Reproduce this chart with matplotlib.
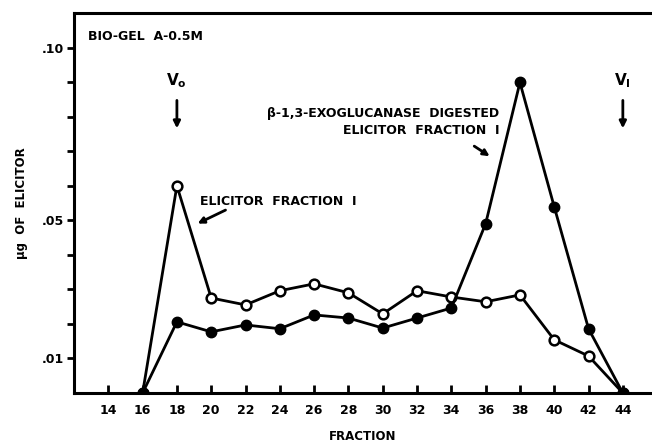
"""Bio-Gel A-0.5M elution profile."""
import numpy as np
import matplotlib
matplotlib.use('Agg')
import matplotlib.pyplot as plt

plt.rcParams['font.family'] = 'DejaVu Sans'
plt.rcParams['font.weight'] = 'bold'
plt.rcParams['mathtext.fontset'] = 'dejavusans'

fractions = [16, 18, 20, 22, 24, 26, 28, 30, 32, 34, 36, 38, 40, 42, 44]
elicitor = [0.0, 0.060, 0.0275, 0.0255, 0.0296, 0.0316, 0.029, 0.0229,
            0.0296, 0.0278, 0.0264, 0.0284, 0.0154, 0.0107, 0.0]
digested = [0.0, 0.0206, 0.0177, 0.0197, 0.0186, 0.0226, 0.0217, 0.0188,
            0.0217, 0.0246, 0.049, 0.0899, 0.0539, 0.0186, 0.0]
x_ticks = list(range(14, 46, 2))
y_ticks = [0.01, 0.02, 0.03, 0.04, 0.05, 0.06, 0.07, 0.08, 0.09, 0.10]
y_labels = {0.01: '.01', 0.05: '.05', 0.10: '.10'}

fig = plt.figure(figsize=(6.52, 4.45), dpi=100)
ax = fig.add_axes([74 / 652, 52 / 445, 578 / 652, 380 / 445])

ax.plot(fractions, elicitor, color='black', lw=2, marker='o', ms=7,
        mfc='white', mec='black', mew=1.8, zorder=3)
ax.plot(fractions, digested, color='black', lw=2, marker='o', ms=7.5,
        mfc='black', mec='black', zorder=4)

ax.set_xlim(12, 45.7)
ax.set_ylim(0, 0.11)
ax.set_xticks(x_ticks)
ax.set_yticks(y_ticks)
ax.set_yticklabels([y_labels.get(round(v, 2), '') for v in y_ticks])

ax.spines['right'].set_visible(False)
for s in ['left', 'top', 'bottom']:
    ax.spines[s].set_linewidth(2.2)
ax.tick_params(axis='x', direction='in', length=6, width=2, labelsize=9, pad=8)
ax.tick_params(axis='y', direction='out', length=5, width=2, labelsize=9, pad=2)

ax.set_xlabel('FRACTION', fontsize=8.5, fontweight='bold', labelpad=9)
ax.set_ylabel('μg  OF  ELICITOR', fontsize=8.5, fontweight='bold', labelpad=10)

ax.text(0.024, 0.937, 'BIO-GEL  A-0.5M', transform=ax.transAxes,
        fontsize=9, fontweight='bold', va='center')

# void and included volume markers
ax.text(18, 0.0905, r'$\mathbf{V_o}$', ha='center', va='center', fontsize=11)
ax.annotate('', xy=(18, 0.0758), xytext=(18, 0.0855),
            arrowprops=dict(arrowstyle='-|>', color='black', lw=2,
                            mutation_scale=10))
ax.text(44, 0.0905, r'$\mathbf{V_I}$', ha='center', va='center', fontsize=11)
ax.annotate('', xy=(44, 0.0758), xytext=(44, 0.0855),
            arrowprops=dict(arrowstyle='-|>', color='black', lw=2,
                            mutation_scale=10))

ax.text(19.35, 0.0555, 'ELICITOR  FRACTION  I', fontsize=9, fontweight='bold',
        va='center')
ax.annotate('', xy=(19.06, 0.0487), xytext=(20.98, 0.0533),
            arrowprops=dict(arrowstyle='-|>', color='black', lw=2,
                            mutation_scale=9))

ax.text(36.8, 0.0785, 'β-1,3-EXOGLUCANASE  DIGESTED\nELICITOR  FRACTION  I',
        fontsize=9, fontweight='bold', ha='right', va='center',
        multialignment='right', linespacing=1.4)
ax.annotate('', xy=(36.37, 0.0681), xytext=(35.2, 0.0719),
            arrowprops=dict(arrowstyle='-|>', color='black', lw=2,
                            mutation_scale=9))

fig.savefig('out.png', dpi=100)
